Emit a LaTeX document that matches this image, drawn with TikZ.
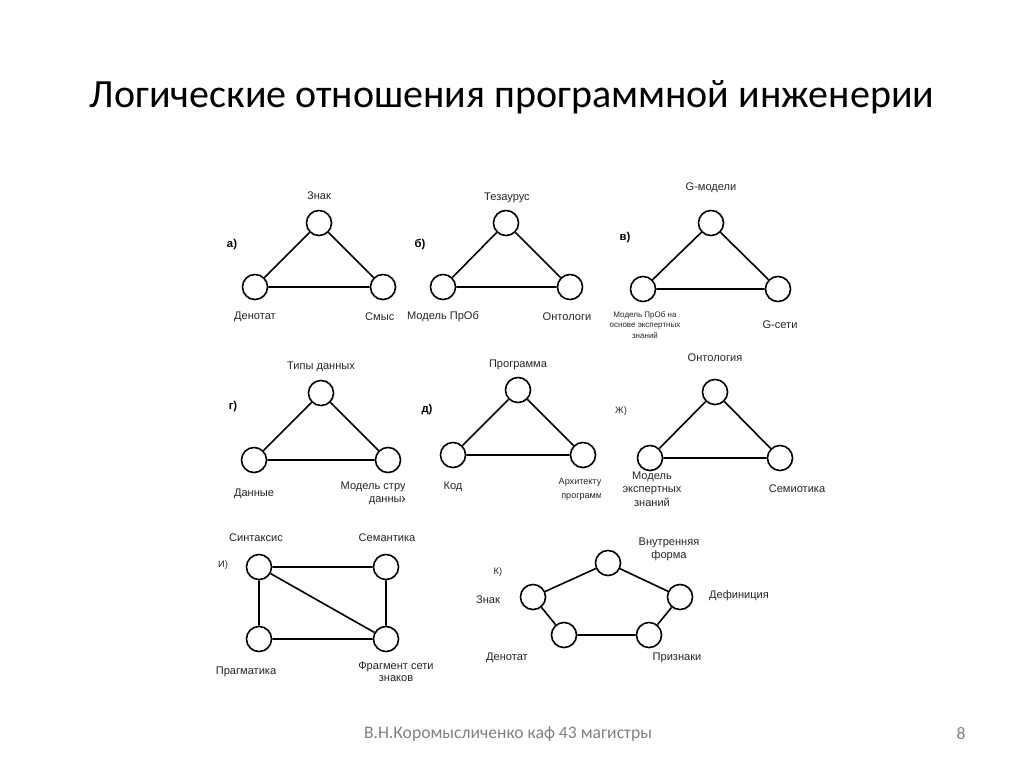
\documentclass[tikz,border=0pt]{standalone}
\usepackage{fontspec}
\setmainfont{Liberation Sans}
\newfontfamily\slidefont{Carlito}
\usetikzlibrary{positioning}

\begin{document}
\begin{tikzpicture}[x=0.75pt, y=-0.75pt,
  vtx/.style={circle, draw, line width=1.2pt, minimum size=18.8pt, inner sep=0pt},
  edge/.style={line width=1.2pt},
  lbl/.style={font=\fontsize{8.3}{9.8}\selectfont, text=black!85, inner sep=0pt, align=center},
  small/.style={font=\fontsize{6}{7.9}\selectfont, text=black!85, inner sep=0pt, align=center},
  tag/.style={font=\fontsize{8.5}{10}\selectfont\bfseries, inner sep=0pt},
  ptag/.style={font=\fontsize{7}{8}\selectfont, text=black!85, inner sep=0pt}]
  \useasboundingbox[fill=white] (0,0) rectangle (1024,767);
  \node[font=\slidefont\fontsize{30}{36}\selectfont] (title) at (512,97) {Логические отношения программной инженерии};

  % a)
  \node[tag] (ta) at (232,245) {а)};
  \node[vtx] (a1) at (319,223) {};
  \node[vtx] (a2) at (255,287) {};
  \node[vtx] (a3) at (383,287) {};
  \draw[edge] (a1) -- (a2) (a2) -- (a3) (a3) -- (a1);
  \node[lbl] (a1l) at (319,196) {Знак};
  \node[lbl] (a2l) at (255,317) {Денотат};
  \begin{scope}
    \clip (340,300) rectangle (393,335);
    \node[lbl] (a3l) at (383,317) {Смысл};
  \end{scope}

  % b)
  \node[tag] (tb) at (420,245) {б)};
  \node[vtx] (b1) at (506,223) {};
  \node[vtx] (b2) at (443,287) {};
  \node[vtx] (b3) at (570,287) {};
  \draw[edge] (b1) -- (b2) (b2) -- (b3) (b3) -- (b1);
  \node[lbl] (b1l) at (507,198) {Тезаурус};
  \node[lbl] (b2l) at (443,317) {Модель ПрОб};
  \begin{scope}
    \clip (530,300) rectangle (590,335);
    \node[lbl] (b3l) at (570,317) {Онтология};
  \end{scope}

  % v)
  \node[tag] (tv) at (625,238) {в)};
  \node[vtx] (c1) at (711,223) {};
  \node[vtx] (c2) at (643,289) {};
  \node[vtx] (c3) at (778,289) {};
  \draw[edge] (c1) -- (c2) (c2) -- (c3) (c3) -- (c1);
  \node[lbl] (c1l) at (711,188) {G-модели};
  \node[small] (c2l) at (645,325) {Модель ПрОб на\\основе экспертных\\знаний};
  \node[lbl] (c3l) at (780,325) {G-сети};

  % g)
  \node[tag] (tg) at (233,407) {г)};
  \node[vtx] (d1) at (321,393) {};
  \node[vtx] (d2) at (254,460) {};
  \node[vtx] (d3) at (388,460) {};
  \draw[edge] (d1) -- (d2) (d2) -- (d3) (d3) -- (d1);
  \node[lbl] (d1l) at (321,367) {Типы данных};
  \node[lbl] (d2l) at (254,494) {Данные};
  \begin{scope}
    \clip (330,475) rectangle (404,510);
    \node[lbl] (d3l) at (388,493) {Модель структуры\\данных};
  \end{scope}

  % d)
  \node[tag] (td) at (427,410) {д)};
  \node[vtx] (e1) at (518,390) {};
  \node[vtx] (e2) at (453,455) {};
  \node[vtx] (e3) at (583,455) {};
  \draw[edge] (e1) -- (e2) (e2) -- (e3) (e3) -- (e1);
  \node[lbl] (e1l) at (518,365) {Программа};
  \node[lbl] (e2l) at (453,487) {Код};
  \begin{scope}
    \clip (545,472) rectangle (600,505);
    \node[small, font=\fontsize{6.8}{10.5}\selectfont] (e3l) at (585,489) {Архитектура\\программы};
  \end{scope}

  % zh)
  \node[ptag] (tzh) at (621,411) {Ж)};
  \node[vtx] (f1) at (715,392) {};
  \node[vtx] (f2) at (650,458) {};
  \node[vtx] (f3) at (780,458) {};
  \draw[edge] (f1) -- (f2) (f2) -- (f3) (f3) -- (f1);
  \node[lbl] (f1l) at (715,358) {Онтология};
  \node[lbl, font=\fontsize{8.3}{10}\selectfont] (f2l) at (652,489) {Модель\\экспертных\\знаний};
  \node[lbl] (f3l) at (797,489) {Семиотика};

  % i)
  \node[ptag] (ti) at (223,565) {И)};
  \node[vtx] (g1) at (259,567) {};
  \node[vtx] (g2) at (386,567) {};
  \node[vtx] (g3) at (259,639) {};
  \node[vtx] (g4) at (386,639) {};
  \draw[edge] (g1) -- (g2) (g1) -- (g3) (g1) -- (g4) (g2) -- (g4) (g3) -- (g4);
  \node[lbl] (g1l) at (256,538) {Синтаксис};
  \node[lbl] (g2l) at (387,538) {Семантика};
  \node[lbl] (g3l) at (246,672) {Прагматика};
  \node[lbl, font=\fontsize{8.3}{8.8}\selectfont] (g4l) at (396,672) {Фрагмент сети\\знаков};

  % k)
  \node[ptag] (tk) at (498,572) {К)};
  \node[vtx] (h1) at (608,563) {};
  \node[vtx] (h2) at (533,597) {};
  \node[vtx] (h3) at (564,635) {};
  \node[vtx] (h4) at (649,635) {};
  \node[vtx] (h5) at (680,597) {};
  \draw[edge] (h2) -- (h1) (h1) -- (h5) (h5) -- (h4) (h4) -- (h3) (h3) -- (h2);
  \node[lbl] (h1l) at (669,549) {Внутренняя\\форма};
  \node[lbl] (h2l) at (488,600) {Знак};
  \node[lbl] (h3l) at (507,658) {Денотат};
  \node[lbl] (h4l) at (677,658) {Признаки};
  \node[lbl] (h5l) at (739,596) {Дефиниция};

  % footer
  \node[font=\slidefont\fontsize{13.2}{15}\selectfont, text=black!50] (foot) at (508,734) {В.Н.Коромысличенко каф 43 магистры};
  \node[font=\slidefont\fontsize{13.2}{15}\selectfont, text=black!50] (page) at (961,734) {8};
\end{tikzpicture}
\end{document}
